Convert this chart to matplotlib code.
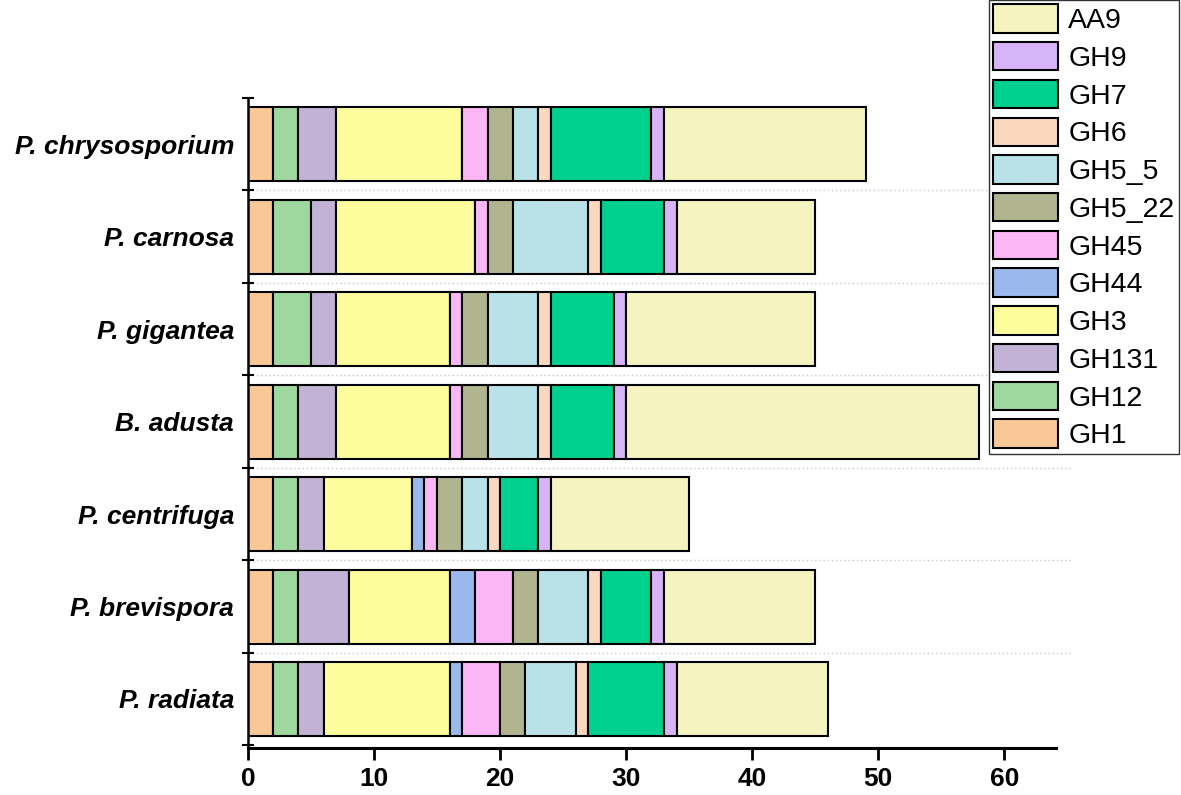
import matplotlib.pyplot as plt
import numpy as np

plt.rcParams['font.family'] = ['Liberation Sans', 'DejaVu Sans']

species = ['P. chrysosporium', 'P. carnosa', 'P. gigantea', 'B. adusta',
           'P. centrifuga', 'P. brevispora', 'P. radiata']
families = ['GH1', 'GH12', 'GH131', 'GH3', 'GH44', 'GH45', 'GH5_22',
            'GH5_5', 'GH6', 'GH7', 'GH9', 'AA9']

# counts per family, rows follow species order
GH1 = [2, 2, 2, 2, 2, 2, 2]
GH12 = [2, 3, 3, 2, 2, 2, 2]
GH131 = [3, 2, 2, 3, 2, 4, 2]
GH3 = [10, 11, 9, 9, 7, 8, 10]
GH44 = [0, 0, 0, 0, 1, 2, 1]
GH45 = [2, 1, 1, 1, 1, 3, 3]
GH5_22 = [2, 2, 2, 2, 2, 2, 2]
GH5_5 = [2, 6, 4, 4, 2, 4, 4]
GH6 = [1, 1, 1, 1, 1, 1, 1]
GH7 = [8, 5, 5, 5, 3, 4, 6]
GH9 = [1, 1, 1, 1, 1, 1, 1]
AA9 = [16, 11, 15, 28, 11, 12, 12]
series = [GH1, GH12, GH131, GH3, GH44, GH45, GH5_22, GH5_5, GH6, GH7, GH9, AA9]

colors = ['#F9C896', '#9FD89F', '#C1B2D6', '#FDFD9D', '#9BB8ED', '#FBB7F5',
          '#B0B58F', '#B8E2E8', '#F9D8BE', '#00D08E', '#D7B3F8', '#F5F3C0']

fig = plt.figure(figsize=(11.81, 7.95), dpi=100)
ax = fig.add_axes([248 / 1181, 47 / 795, 808 / 1181, 650 / 795])

y = np.arange(len(species))[::-1]
left = np.zeros(len(species))
handles = []
for fam, vals, col in zip(families, series, colors):
    vals = np.array(vals)
    h = ax.barh(y, vals, left=left, height=0.8, color=col,
                edgecolor='black', linewidth=1.5, label=fam)
    handles.append(h)
    left += vals

ax.set_xlim(0, 64.1)
ax.set_ylim(-0.53, 6.5)
ax.set_xticks([0, 10, 20, 30, 40, 50, 60])
ax.set_yticks(y)
ax.set_yticklabels(species, fontsize=19, fontweight='bold', fontstyle='italic')
ax.set_yticks(np.arange(-0.5, 7, 1), minor=True)
ax.tick_params(axis='y', which='major', length=0, pad=10)
ax.tick_params(axis='y', which='minor', direction='inout', length=9, width=1.5)
ax.tick_params(axis='x', which='major', direction='out', length=8.5, width=2,
               labelsize=19, pad=5)
for lab in ax.get_xticklabels():
    lab.set_fontweight('bold')

for b in np.arange(0.5, 6, 1):
    ax.axhline(b, xmax=1.02, color='#c8c8c8', linestyle=(0, (1, 2)),
               linewidth=1, zorder=0, clip_on=False)

ax.spines['top'].set_visible(False)
ax.spines['right'].set_visible(False)
ax.spines['left'].set_linewidth(1.8)
ax.spines['bottom'].set_linewidth(2.2)

leg = fig.legend(handles[::-1], families[::-1], loc='upper right',
                 bbox_to_anchor=(0.998, 1.0), fontsize=20.5, frameon=True,
                 fancybox=False, edgecolor='black', handlelength=2.3,
                 handleheight=1.15, labelspacing=0.28, borderpad=0.15,
                 handletextpad=0.35, borderaxespad=0)
leg.get_frame().set_linewidth(1)

fig.savefig('out.png', dpi=100)
